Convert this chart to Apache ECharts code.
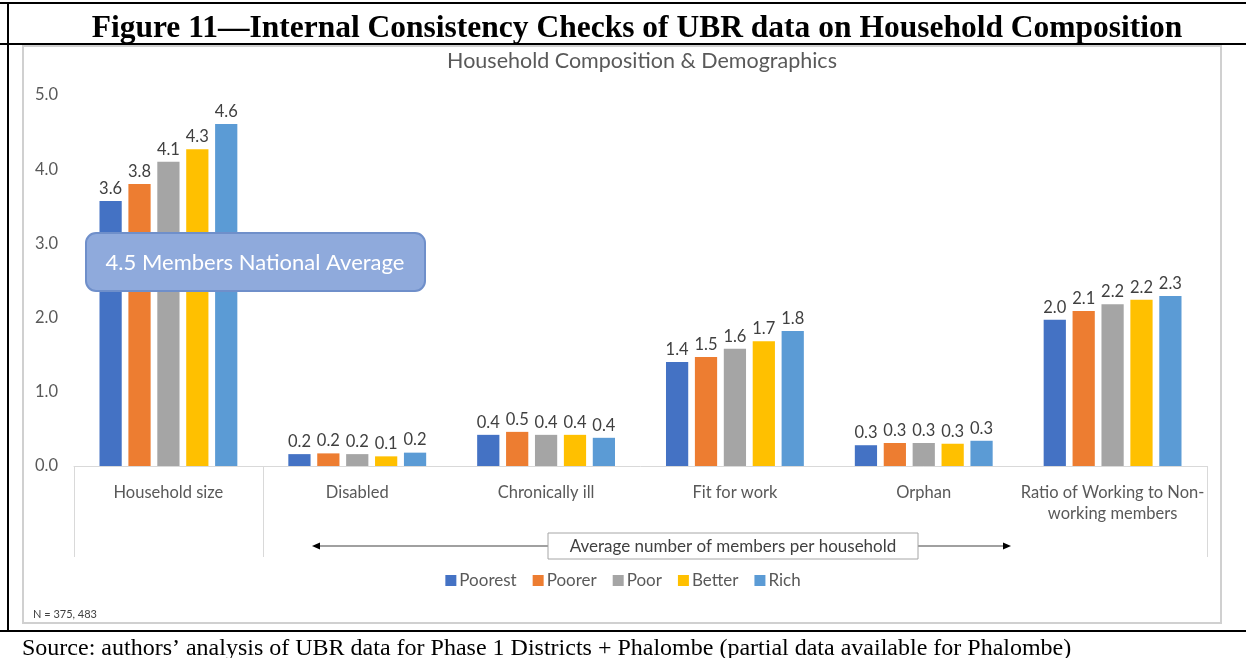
<!DOCTYPE html>
<html>
<head>
<meta charset="utf-8">
<script src="https://cdn.jsdelivr.net/npm/echarts@6/dist/echarts.min.js"></script>
<style>
  html, body { margin: 0; padding: 0; background: #fff; }
  #chart { width: 1246px; height: 658px; }
</style>
</head>
<body>
<div id="chart"></div>
<script>
// categories and groups
var categories = ['Household size', 'Disabled', 'Chronically ill', 'Fit for work', 'Orphan', 'Ratio of Working to Non-\nworking members'];
var groups = ['Poorest', 'Poorer', 'Poor', 'Better', 'Rich'];
var colors = ['#4472C4', '#ED7D31', '#A5A5A5', '#FFC000', '#5B9BD5'];

// values, per group
var poorest = [3.57, 0.16, 0.42, 1.40, 0.28, 1.97];
var poorer  = [3.80, 0.17, 0.46, 1.47, 0.31, 2.09];
var poor    = [4.10, 0.16, 0.42, 1.58, 0.31, 2.18];
var better  = [4.27, 0.13, 0.42, 1.68, 0.30, 2.24];
var rich    = [4.61, 0.18, 0.38, 1.82, 0.34, 2.29];
var seriesValues = [poorest, poorer, poor, better, rich];

var figureTitle = 'Figure 11\u2014Internal Consistency Checks of UBR data on Household Composition';
var chartTitle = 'Household Composition & Demographics';
var calloutText = '4.5 Members National Average';
var spanText = 'Average number of members per household';
var noteText = 'N = 375, 483';
var sourceText = 'Source: authors\u2019 analysis of UBR data for Phase 1 Districts + Phalombe (partial data available for Phalombe)';

var font = 'Lato, "Noto Sans", sans-serif';
var serif = '"Liberation Serif", "DejaVu Serif", serif';

var myChart = echarts.init(document.getElementById('chart'));

function buildSeries() {
  return groups.map(function (name, i) {
    return {
      name: name,
      type: 'bar',
      barGap: '30%',
      barCategoryGap: '27%',
      itemStyle: { color: colors[i] },
      label: {
        show: true,
        position: 'top',
        distance: 4,
        color: '#404040',
        fontSize: 16.5,
        fontFamily: font,
        formatter: function (p) { return p.value.toFixed(1); }
      },
      data: seriesValues[i]
    };
  });
}

var options = {
  animation: false,
  title: [{
    text: figureTitle,
    left: 632,
    textAlign: 'center',
    top: 8,
    textStyle: { fontFamily: serif, fontWeight: 'bold', fontSize: 31.5, color: '#000' }
  }, {
    text: chartTitle,
    left: 637,
    textAlign: 'center',
    top: 45,
    textStyle: { fontFamily: font, fontWeight: 'normal', fontSize: 21.5, color: '#595959' }
  }],
  legend: {
    data: groups,
    left: 'center',
    top: 567,
    icon: 'rect',
    itemWidth: 11,
    itemHeight: 11,
    itemGap: 16,
    textStyle: { fontFamily: font, fontSize: 17, color: '#595959', padding: [0, 0, 0, -2] }
  },
  grid: { left: 74, right: 39, top: 95, bottom: 192, containLabel: false },
  xAxis: {
    type: 'category',
    data: categories,
    axisLine: { lineStyle: { color: '#d9d9d9', width: 1 } },
    axisTick: {
      show: true,
      length: 91,
      interval: function (index) { return index === 0 || index === 1 || index === 6; },
      lineStyle: { color: '#d9d9d9' }
    },
    axisLabel: {
      interval: 0,
      margin: 16,
      color: '#595959',
      fontSize: 16.5,
      fontFamily: font,
      lineHeight: 21
    }
  },
  yAxis: {
    type: 'value',
    min: 0,
    max: 5,
    interval: 1,
    splitLine: { show: false },
    axisLine: { show: false },
    axisTick: { show: false },
    axisLabel: {
      margin: 16,
      color: '#595959',
      fontSize: 16.5,
      fontFamily: font,
      formatter: function (v) { return v.toFixed(1); }
    }
  },
  graphic: [
    // outer frame
    { type: 'line', shape: { x1: 0, y1: 3, x2: 1246, y2: 3 }, style: { stroke: '#000', lineWidth: 2 } },
    { type: 'line', shape: { x1: 0, y1: 44, x2: 1246, y2: 44 }, style: { stroke: '#000', lineWidth: 2 } },
    { type: 'line', shape: { x1: 8, y1: 3, x2: 8, y2: 631 }, style: { stroke: '#000', lineWidth: 2 } },
    { type: 'line', shape: { x1: 0, y1: 631, x2: 1246, y2: 631 }, style: { stroke: '#000', lineWidth: 2 } },
    // chart panel border
    { type: 'rect', shape: { x: 23, y: 46, width: 1198, height: 577 }, style: { fill: 'none', stroke: '#d0d0d0', lineWidth: 2 } },
    // callout
    {
      type: 'rect', z: 100,
      shape: { x: 86, y: 233, width: 339, height: 58, r: 10 },
      style: { fill: '#8FAADC', stroke: '#6F8FCA', lineWidth: 2 }
    },
    {
      type: 'text', z: 101, x: 255, y: 263,
      style: { text: calloutText, fill: '#fff', font: '22px ' + font, textAlign: 'center', textVerticalAlign: 'middle' }
    },
    // span annotation
    { type: 'line', shape: { x1: 316, y1: 546, x2: 1006, y2: 546 }, style: { stroke: '#808080', lineWidth: 1.5 } },
    { type: 'polygon', shape: { points: [[312, 546], [320, 542.5], [320, 549.5]] }, style: { fill: '#000' } },
    { type: 'polygon', shape: { points: [[1011, 546], [1003, 542.5], [1003, 549.5]] }, style: { fill: '#000' } },
    { type: 'rect', z: 10, shape: { x: 548, y: 533, width: 370, height: 26 }, style: { fill: '#fff', stroke: '#a6a6a6', lineWidth: 1 } },
    {
      type: 'text', z: 11, x: 733, y: 547,
      style: { text: spanText, fill: '#404040', font: '17px ' + font, textAlign: 'center', textVerticalAlign: 'middle' }
    },
    // footnote and source
    { type: 'text', x: 33, y: 614, style: { text: noteText, fill: '#404040', font: '11px ' + font, textVerticalAlign: 'middle' } },
    { type: 'text', x: 22, y: 649, style: { text: sourceText, fill: '#000', font: '24px ' + serif, textVerticalAlign: 'middle' } }
  ],
  series: buildSeries()
};

myChart.setOption(options);
</script>
</body>
</html>
